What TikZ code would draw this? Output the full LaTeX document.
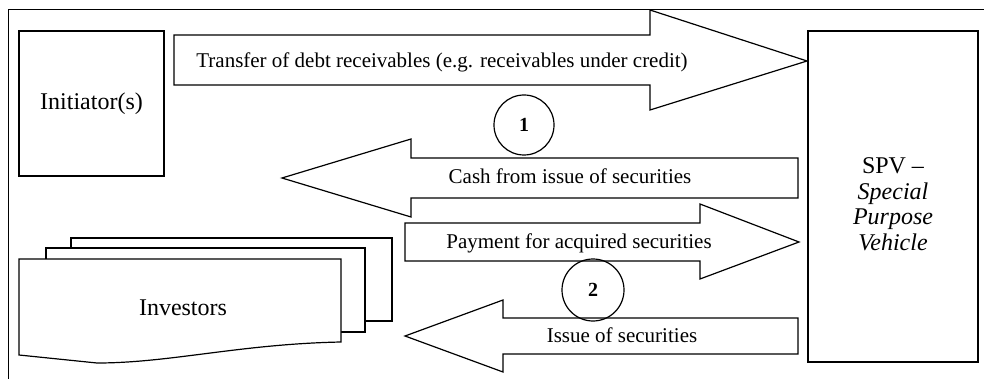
\documentclass[tikz,border=0pt]{standalone}
\usepackage{fontspec}
\setmainfont{Liberation Serif}
\usetikzlibrary{
  calc,
  positioning,
  shapes,
}
\tikzstyle{party} = [
  draw,
  rectangle,
  line width=1.2pt,
  fill=white,
  inner sep=0pt,
  font=\fontsize{24}{26}\selectfont,
]
\tikzstyle{flow} = [
  draw,
  line width=1.2pt,
  fill=white,
  line join=miter,
]
\tikzstyle{flowtext} = [
  anchor=base,
  inner sep=0pt,
  font=\fontsize{21}{23}\selectfont,
]
\tikzstyle{stepno} = [
  draw,
  circle,
  line width=1.2pt,
  inner sep=0pt,
  font=\bfseries\fontsize{20}{22}\selectfont,
]

\begin{document}
\begin{tikzpicture}[x=1pt,y=-1pt]
      \useasboundingbox (0,0) rectangle (984,379);

      % outer frame, open at right and bottom
      \draw[line width=1pt] (8,379) -- (8,10) -- (984,10);

      \node[party,minimum width=145,minimum height=145]    (init)    at (91.5,103.5)    {Initiator(s)};
      \node[party,minimum width=170,minimum height=331]    (spv)     at (893,196.5)     {};
      \node[align=center,font=\fontsize{24}{25.5}\selectfont]    (spvname)    [yshift=-7.5pt] at (spv.center)
        {SPV --\\ \textit{Special}\\ \textit{Purpose}\\ \textit{Vehicle}};

      % stack of investor documents
      \draw[flow] (71,238) rectangle (392,321);
      \draw[flow] (46,248) rectangle (365,332);
      \draw[flow] (19,259) -- (341,259) -- (341,342)
        .. controls (240,344) and (170,363) .. (97,363) -- (19,355) -- cycle;
      \node[font=\fontsize{24}{26}\selectfont]    (inv)    at (183,308)    {Investors};

      % block arrows
      \draw[flow] (174,35) -- (650,35) -- (650,10) -- (807,61) -- (650,110) -- (650,85) -- (174,85) -- cycle;
      \draw[flow] (798,158) -- (411,158) -- (411,139) -- (282,178) -- (411,217) -- (411,198) -- (798,198) -- cycle;
      \draw[flow] (405,223) -- (700,223) -- (700,204) -- (799,242) -- (700,279) -- (700,261) -- (405,261) -- cycle;
      \draw[flow] (798,318) -- (503,318) -- (503,300) -- (405,336) -- (503,372) -- (503,354) -- (798,354) -- cycle;

      \node[flowtext]    (transfer)    at (442,68)     {Transfer of debt receivables (e.g. receivables under credit)};
      \node[flowtext]    (cash)        at (570,184)    {Cash from issue of securities};
      \node[flowtext]    (payment)     at (579,248)    {Payment for acquired securities};
      \node[flowtext]    (issue)       at (622,342)    {Issue of securities};

      \node[stepno,minimum size=60]    (num1)    at (524,125)    {1};
      \node[stepno,minimum size=62]    (num2)    at (593,290)    {2};

\end{tikzpicture}
\end{document}
